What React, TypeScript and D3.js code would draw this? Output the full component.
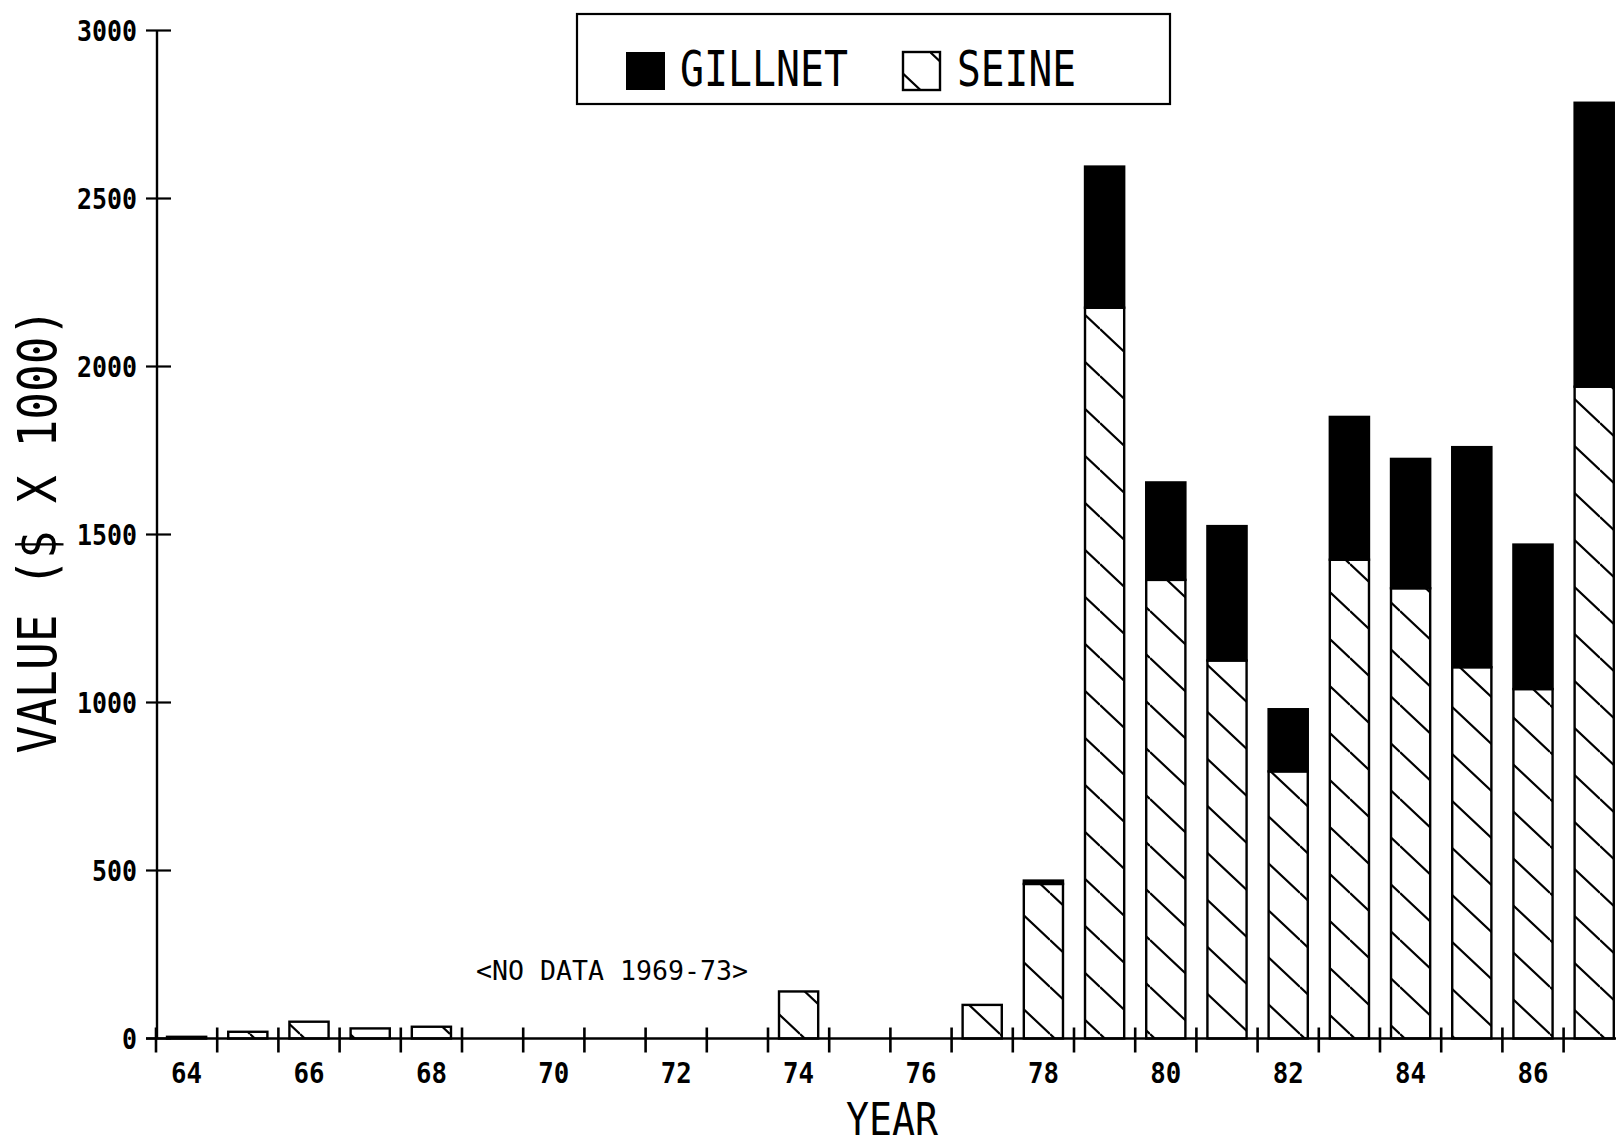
import React from 'react';
import * as d3 from 'd3';

// values in $ x 1000
const years = ['64','65','66','67','68','69','70','71','72','73','74','75','76','77','78','79','80','81','82','83','84','85','86','87'];
const seine = [5, 20, 50, 30, 35, 0, 0, 0, 0, 0, 140, 0, 0, 100, 460, 2175, 1365, 1125, 795, 1425, 1340, 1105, 1040, 1940];
const gillnet = [0, 0, 0, 0, 0, 0, 0, 0, 0, 0, 0, 0, 0, 0, 10, 420, 290, 400, 185, 425, 385, 655, 430, 845];
const yTicks = [0, 500, 1000, 1500, 2000, 2500, 3000];
const labelYears = ['64','66','68','70','72','74','76','78','80','82','84','86'];

const W = 1616;
const H = 1145;
const FONT = '"DejaVu Sans Mono", "Liberation Mono", monospace';

const x = d3.scaleBand<string>()
  .domain(years)
  .range([156, 156 + 61.2 * years.length])
  .paddingInner(0.36)
  .paddingOuter(0.18);

const y = d3.scaleLinear().domain([0, 3000]).range([1038.5, 30.5]);

const rows = years.map((yr, i) => ({ year: yr, seine: seine[i], gillnet: gillnet[i] }));
const stacked = d3.stack<any>().keys(['seine', 'gillnet'])(rows);

const T = ({ x, y, size, len, anchor = 'start', weight = 'normal', children, transform }: any) => (
  <text
    x={x}
    y={y}
    transform={transform}
    fontFamily={FONT}
    fontSize={size}
    fontWeight={weight}
    textAnchor={anchor}
    textLength={len}
    lengthAdjust="spacingAndGlyphs"
    fill="#000"
  >
    {children}
  </text>
);

const App = () => {
  const step = x.step();
  const gap = (step - x.bandwidth()) / 2;
  const boundaries = years.map(yr => (x(yr) as number) - gap);
  boundaries.push(boundaries[boundaries.length - 1] + step);

  const hw = 50, hh = 47;
  const hatchPath = `M0,0 L${hw},${hh} M0,${hh} L${hw},${hh * 2} M0,${-hh} L${hw},0`;

  return (
    <svg width={W} height={H} style={{ position: 'absolute', left: 0, top: 0, background: '#fff' }}>
      <defs>
        <pattern id="hatch" patternUnits="userSpaceOnUse" width={hw} height={hh}>
          <rect width={hw} height={hh} fill="#fff" />
          <path d={hatchPath} stroke="#000" strokeWidth={2.2} />
        </pattern>
        <pattern id="hatchLegend" patternUnits="userSpaceOnUse" x={930} y={52} width={hw} height={hh}>
          <rect width={hw} height={hh} fill="#fff" />
          <path d={hatchPath} stroke="#000" strokeWidth={2.2} />
        </pattern>
      </defs>

      {/* bars */}
      {stacked[0].map((d, i) => {
        if (d[1] - d[0] <= 0) return null;
        return (
          <rect
            key={'s' + i}
            x={x(years[i])}
            y={y(d[1])}
            width={x.bandwidth()}
            height={Math.max(y(d[0]) - y(d[1]), 1.5)}
            fill="url(#hatch)"
            stroke="#000"
            strokeWidth={2.4}
          />
        );
      })}
      {stacked[1].map((d, i) => {
        if (d[1] - d[0] <= 0) return null;
        return (
          <rect
            key={'g' + i}
            x={x(years[i])}
            y={y(d[1])}
            width={x.bandwidth()}
            height={y(d[0]) - y(d[1])}
            fill="#000"
            stroke="#000"
            strokeWidth={2.4}
          />
        );
      })}

      {/* y axis */}
      <line x1={157} x2={157} y1={y(3000)} y2={y(0)} stroke="#000" strokeWidth={2.4} />
      {yTicks.map(t => (
        <g key={t}>
          <line x1={146} x2={171} y1={y(t)} y2={y(t)} stroke="#000" strokeWidth={2.2} />
          <T x={137} y={y(t) + 10.5} size={29} weight="bold" len={String(t).length * 15} anchor="end">{t}</T>
        </g>
      ))}

      {/* x axis */}
      <line x1={146} x2={W} y1={y(0)} y2={y(0)} stroke="#000" strokeWidth={2.4} />
      {boundaries.map((b, i) => (
        <line key={i} x1={b} x2={b} y1={y(0) - 11} y2={y(0) + 14} stroke="#000" strokeWidth={2.6} />
      ))}
      {labelYears.map(yr => (
        <T key={yr} x={(x(yr) as number) + x.bandwidth() / 2} y={1083} size={29} weight="bold" len={31} anchor="middle">{yr}</T>
      ))}

      <T x={892} y={1135} size={44} len={92} anchor="middle">YEAR</T>
      <T transform="translate(56,531) rotate(-90)" x={0} y={0} size={53} len={445} anchor="middle">VALUE ($ X 1000)</T>
      <T x={476} y={980} size={26} len={272}>&lt;NO DATA 1969-73&gt;</T>

      {/* legend */}
      <rect x={577} y={14} width={593} height={90} fill="#fff" stroke="#000" strokeWidth={2.2} />
      <rect x={626} y={52} width={39} height={38} fill="#000" />
      <T x={680} y={86} size={49} len={168}>GILLNET</T>
      <rect x={903} y={52} width={37} height={38} fill="url(#hatchLegend)" stroke="#000" strokeWidth={2.4} />
      <T x={957} y={86} size={49} len={119}>SEINE</T>
    </svg>
  );
};

export default App;
